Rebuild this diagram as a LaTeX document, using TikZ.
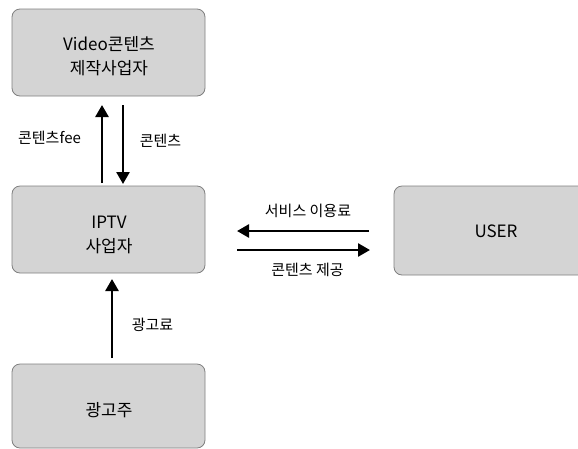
\documentclass[tikz,border=0pt]{standalone}
\usepackage{fontspec}
\setmainfont{Noto Sans CJK KR}
\usetikzlibrary{arrows.meta}
\definecolor{boxfill}{HTML}{D4D4D4}
\definecolor{boxline}{HTML}{7F7F7F}
\tikzset{
  party/.style={draw=boxline, fill=boxfill, line width=0.8pt, rounded corners=8pt,
    minimum width=193pt, minimum height=87pt, inner sep=0pt},
  partytxt/.style={align=center, inner sep=0pt,
    font=\fontsize{17pt}{24.5pt}\selectfont},
  flow/.style={line width=2.6pt, -{Triangle[width=13pt,length=12pt]}},
  lbl/.style={font=\fontsize{15pt}{18pt}\selectfont, inner sep=0pt}
}
\begin{document}
\begin{tikzpicture}[x=1pt,y=-1pt]
  \useasboundingbox (0,0) rectangle (578,448);
  \clip (0,0) rectangle (578,448);
  % participants
  \node[party] (prod) at (108.5,52.5) {};
  \node[partytxt] (prodtxt) at (109,56) {Video콘텐츠\\제작사업자};
  \node[party] (iptv) at (108.5,229.5) {};
  \node[partytxt] (iptvtxt) at (109,235) {IPTV\\사업자};
  \node[party, minimum width=200pt, minimum height=89pt] (user) at (494,230.5) {};
  \node[partytxt] (usertxt) at (496,231) {USER};
  \node[party, minimum height=84pt] (adv) at (108.5,406) {};
  \node[partytxt] (advtxt) at (109,410) {광고주};
  % connector end points
  \coordinate (p1) at (102,105);
  \coordinate (p2) at (102,183);
  \coordinate (q1) at (123,105);
  \coordinate (q2) at (123,184);
  \coordinate (u1) at (369,231);
  \coordinate (u2) at (237,231);
  \coordinate (v1) at (237,250);
  \coordinate (v2) at (370,250);
  \coordinate (a1) at (112,358);
  \coordinate (a2) at (112,279);
  % money and content flows
  \draw[flow] (p2) -- (p1);
  \draw[flow] (q1) -- (q2);
  \draw[flow] (u1) -- (u2);
  \draw[flow] (v1) -- (v2);
  \draw[flow] (a1) -- (a2);
  % flow labels
  \node[lbl] (lfee) at (49.5,138) {콘텐츠fee};
  \node[lbl] (lcon) at (160.5,140.5) {콘텐츠};
  \node[lbl] (lsvc) at (308,210.5) {서비스 이용료};
  \node[lbl] (lprv) at (307.5,269.5) {콘텐츠 제공};
  \node[lbl] (lad) at (152.5,324.5) {광고료};
\end{tikzpicture}
\end{document}
